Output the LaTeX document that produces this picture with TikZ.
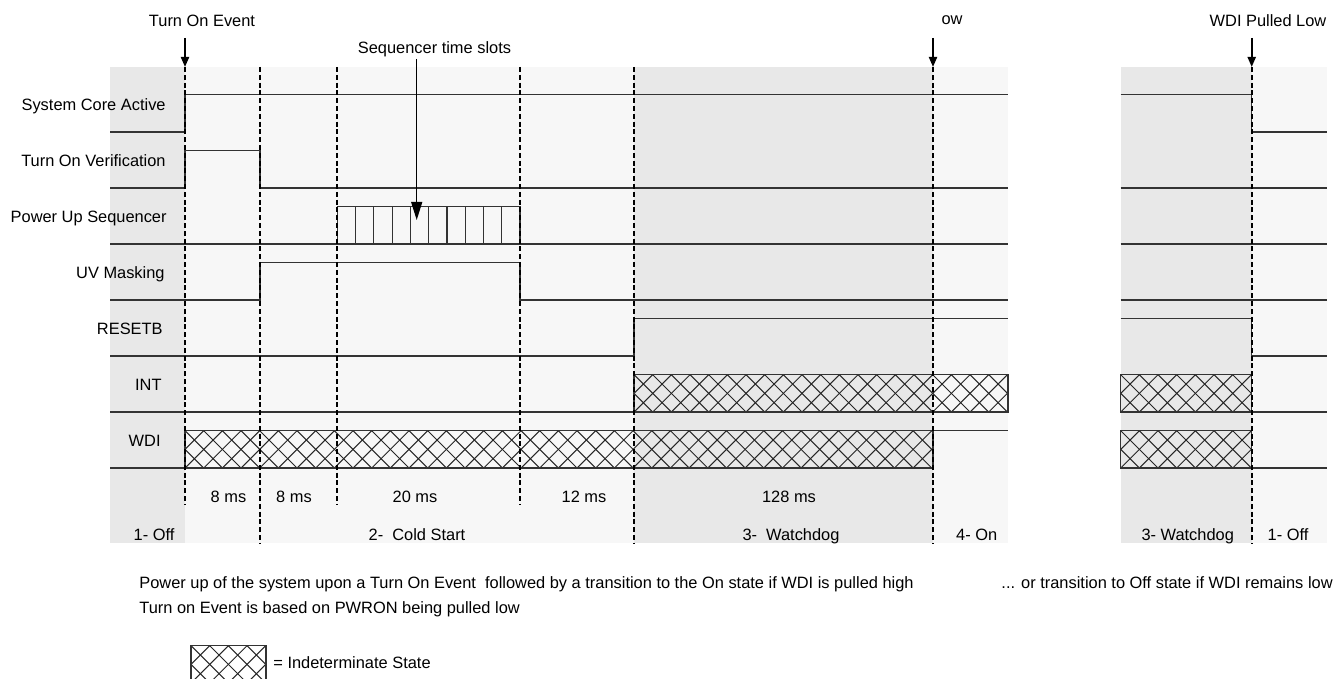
\documentclass[tikz,border=0pt]{standalone}
\usepackage{fontspec}
\setmainfont{Liberation Sans}
\usetikzlibrary{arrows.meta}

\definecolor{offgrey}{HTML}{E8E8E8}
\definecolor{ongrey}{HTML}{F7F7F7}
\definecolor{sigcol}{HTML}{333333}

\tikzset{
  sig/.style={draw=sigcol, line width=0.6pt},
  edgeline/.style={line width=1pt, dash pattern=on 2.5pt off 1.4pt},
  evarrow/.style={line width=1pt, -{Triangle[length=5pt,width=4pt]}},
  slotarrow/.style={line width=0.6pt, -{Triangle[length=9pt,width=5.5pt]}},
  lbl/.style={font=\fontsize{8.2pt}{9.8pt}\selectfont, inner sep=0pt},
  hatchln/.style={line width=0.5pt, draw=black!85}
}

% indeterminate (cross hatched) box: x1, y1 (top), x2, y2 (bottom)
\newcommand{\indet}[4]{%
  \begin{scope}
    \clip (#1,#2) rectangle (#3,#4);
    \pgfmathsetmacro{\nslot}{int((#3-#1)/18.67)+2}
    \foreach \k in {-2,...,\nslot}
      \draw[hatchln] ({#1+\k*18.67},#2) -- ++(37.33,37.33)
                     ({#1+\k*18.67},#2) -- ++(-37.33,37.33);
  \end{scope}
  \draw[sig] (#1,#2) rectangle (#3,#4);
}

\begin{document}
\begin{tikzpicture}[x=0.5pt, y=-0.5pt]
        \useasboundingbox (0,0) rectangle (1343,679);

        % pozadi
        \fill[ongrey] (110,67) rectangle (1008,543);
        \fill[offgrey] (110,67) rectangle (185,543);
        \fill[offgrey] (634,67) rectangle (933,543);
        \fill[offgrey] (1120.7,67) rectangle (1251.7,543);
        \fill[ongrey] (1251.7,67) rectangle (1326.7,543);

        % System Core Active
        \draw[sig] (110,132) -- (185,132) -- (185,94.7) -- (1008,94.7);
        \draw[sig] (1120.7,94.7) -- (1251.7,94.7) -- (1251.7,132) -- (1326.7,132);

        % Turn On Verification
        \draw[sig] (110,188) -- (185,188) -- (185,150.7) -- (260,150.7) -- (260,188) -- (1008,188);
        \draw[sig] (1120.7,188) -- (1326.7,188);

        % Power Up Sequencer
        \draw[sig] (110,244) -- (1008,244);
        \draw[sig] (337.3,206.7) rectangle (520,244);
        \foreach \k in {1,...,9}
          \draw[sig] ({337.3+\k*18.27},206.7) -- ++(0,37.3);
        \draw[sig] (1120.7,244) -- (1326.7,244);

        % UV Masking
        \draw[sig] (110,300) -- (260,300) -- (260,262.7) -- (520,262.7) -- (520,300) -- (1008,300);
        \draw[sig] (1120.7,300) -- (1326.7,300);

        % RESETB
        \draw[sig] (110,356) -- (634,356) -- (634,318.7) -- (1008,318.7);
        \draw[sig] (1120.7,318.7) -- (1251.7,318.7) -- (1251.7,356) -- (1326.7,356);

        % INT
        \draw[sig] (110,412) -- (634,412);
        \indet{634}{374.7}{1008}{412}
        \indet{1120.7}{374.7}{1251.7}{412}
        \draw[sig] (1251.7,412) -- (1326.7,412);

        % WDI
        \draw[sig] (110,468) -- (185,468);
        \indet{185}{430.7}{933}{468}
        \draw[sig] (933,430.7) -- (1008,430.7);
        \indet{1120.7}{430.7}{1251.7}{468}
        \draw[sig] (1251.7,468) -- (1326.7,468);

        % casove hranice
        \coordinate (ton) at (185,67);
        \coordinate (wdion) at (933,67);
        \coordinate (wdioff) at (1251.7,67);
        \draw[edgeline] (ton) -- (185,505);
        \draw[edgeline] (260,67) -- (260,543);
        \draw[edgeline] (337.3,67) -- (337.3,505);
        \draw[edgeline] (520,67) -- (520,505);
        \draw[edgeline] (634,67) -- (634,543);
        \draw[edgeline] (wdion) -- (933,543);
        \draw[edgeline] (wdioff) -- (1251.7,543);

        % udalosti
        \node[lbl, anchor=base] (tonlbl) at (202,26.7) {Turn On Event};
        \node[lbl, anchor=base] (owlbl) at (952,25) {ow};
        \node[lbl, anchor=base] (wdilbl) at (1268,26.7) {WDI Pulled Low};
        \node[lbl, anchor=base] (seqlbl) at (434.5,53.3) {Sequencer time slots};
        \coordinate (tonsrc) at (185,38);
        \coordinate (wdionsrc) at (933,38);
        \coordinate (wdioffsrc) at (1251.7,38);
        \coordinate (seqsrc) at (416.7,59);
        \coordinate (seqdst) at (416.7,220);
        \draw[evarrow] (tonsrc) -- (ton);
        \draw[evarrow] (wdionsrc) -- (wdion);
        \draw[evarrow] (wdioffsrc) -- (wdioff);
        \draw[slotarrow] (seqsrc) -- (seqdst);

        % popisky signalu
        \node[lbl, anchor=base east] (sca) at (166,110.8) {System Core Active};
        \node[lbl, anchor=base east] (tov) at (166,166.8) {Turn On Verification};
        \node[lbl, anchor=base east] (pus) at (167,222.8) {Power Up Sequencer};
        \node[lbl, anchor=base east] (uvm) at (165,278.8) {UV Masking};
        \node[lbl, anchor=base east] (rst) at (163,334.8) {RESETB};
        \node[lbl, anchor=base east] (int) at (162,390.8) {INT};
        \node[lbl, anchor=base east] (wdi) at (161,446.8) {WDI};

        % doby
        \node[lbl, anchor=base] (d1) at (228.5,502.3) {8 ms};
        \node[lbl, anchor=base] (d2) at (294,502.3) {8 ms};
        \node[lbl, anchor=base] (d3) at (415,502.3) {20 ms};
        \node[lbl, anchor=base] (d4) at (584,502.3) {12 ms};
        \node[lbl, anchor=base] (d5) at (789,502.3) {128 ms};

        % stavy
        \node[lbl, anchor=base] (s1) at (154,540) {1- Off};
        \node[lbl, anchor=base] (s2) at (417,540) {2-\ \ Cold Start};
        \node[lbl, anchor=base] (s3) at (791,540) {3-\ \ Watchdog};
        \node[lbl, anchor=base] (s4) at (976.7,540) {4- On};
        \node[lbl, anchor=base] (s5) at (1187.7,540) {3- Watchdog};
        \node[lbl, anchor=base] (s6) at (1288,540) {1- Off};

        % poznamky
        \node[lbl, anchor=base west] (note1) at (139,588.5) {Power up of the system upon a Turn On Event\ \ followed by a transition to the On state if WDI is pulled high};
        \node[lbl, anchor=base west] (note2) at (139,613.3) {Turn on Event is based on PWRON being pulled low};
        \node[lbl, anchor=base east] (note3) at (1333,588.5) {... or transition to Off state if WDI remains low};

        % legenda
        \indet{191}{645.7}{266}{683}
        \node[lbl, anchor=base west] (legend) at (273,668) {= Indeterminate State};
    \end{tikzpicture}
\end{document}
